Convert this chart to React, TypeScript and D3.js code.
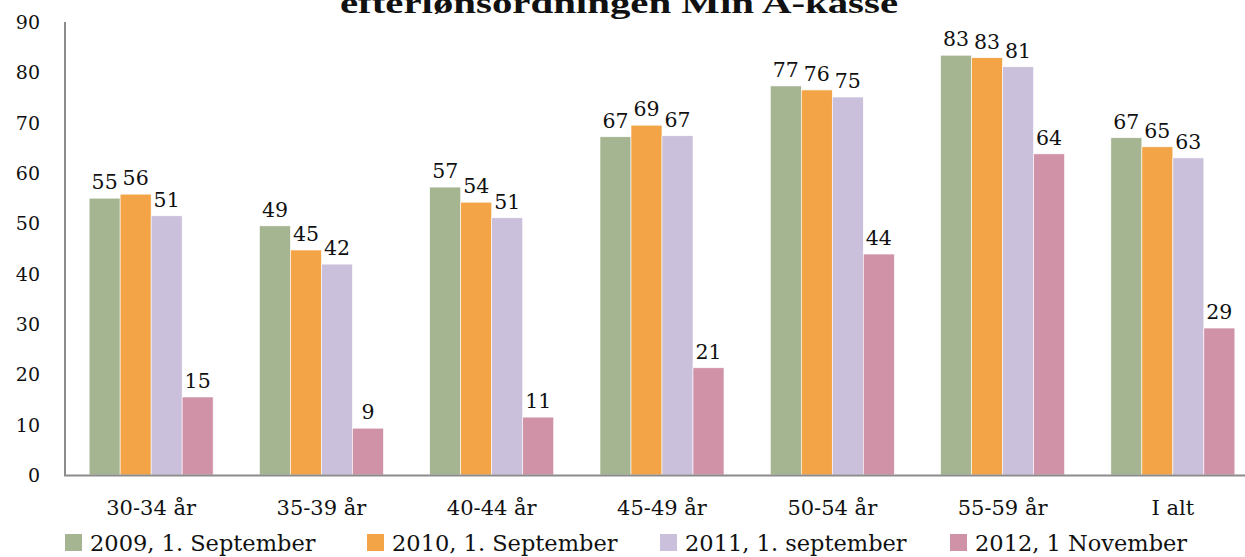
import React from "react";
import * as d3 from "d3";

const categories = ["30-34 år", "35-39 år", "40-44 år", "45-49 år", "50-54 år", "55-59 år", "I alt"];
const seriesNames = ["2009, 1. September", "2010, 1. September", "2011, 1. september", "2012, 1 November"];
const colors = ["#A5B592", "#F3A447", "#CBC0DB", "#D092A7"];
const s2009 = [55.0, 49.5, 57.2, 67.2, 77.3, 83.4, 67.0];
const s2010 = [55.8, 44.7, 54.2, 69.5, 76.5, 82.9, 65.2];
const s2011 = [51.5, 41.9, 51.1, 67.4, 75.1, 81.1, 63.0];
const s2012 = [15.5, 9.3, 11.5, 21.3, 43.9, 63.8, 29.2];
const labels2009 = [55, 49, 57, 67, 77, 83, 67];
const labels2010 = [56, 45, 54, 69, 76, 83, 65];
const labels2011 = [51, 42, 51, 67, 75, 81, 63];
const labels2012 = [15, 9, 11, 21, 44, 64, 29];
const yTicks = [0, 10, 20, 30, 40, 50, 60, 70, 80, 90];
const title = "efterlønsordningen Min A-kasse";

const series = [s2009, s2010, s2011, s2012];
const seriesLabels = [labels2009, labels2010, labels2011, labels2012];

export default function App() {
  const W = 1245, H = 557;
  const x = d3.scaleBand<string>().domain(categories).range([66, 1258]).padding(0);
  const y = d3.scaleLinear().domain([0, 90]).range([475, 22]);
  const barW = 31;
  const font = "'DejaVu Serif', 'Liberation Serif', serif";
  const titleFont = "'Liberation Serif', serif";
  const legendX = [65, 367, 660, 950];

  return (
    <svg width={W} height={H} style={{ position: "absolute", left: 0, top: 0, background: "#fff" }}>
      <text x={340} y={13} fontFamily={titleFont} fontWeight="bold" fontSize={29} fill="#111"
        textLength={558} lengthAdjust="spacingAndGlyphs">
        {title}
      </text>
      {yTicks.map((t) => (
        <text key={t} x={40} y={y(t) + 7} textAnchor="end" fontFamily={font} fontSize={19} fill="#111">
          {t}
        </text>
      ))}
      {categories.map((c, ci) => {
        const cx = (x(c) as number) + x.bandwidth() / 2;
        const start = cx - (barW * series.length) / 2;
        return (
          <g key={c}>
            {series.map((s, si) => (
              <rect
                key={si}
                x={start + si * barW}
                y={y(s[ci])}
                width={barW}
                height={y(0) - y(s[ci])}
                fill={colors[si]}
                stroke="#fff"
                strokeWidth={0.6}
              />
            ))}
            {series.map((s, si) => (
              <text
                key={"l" + si}
                x={start + si * barW + barW / 2}
                y={y(s[ci]) - 9}
                textAnchor="middle"
                fontFamily={font}
                fontSize={20.5}
                fill="#111"
              >
                {seriesLabels[si][ci]}
              </text>
            ))}
            <text x={cx} y={515} textAnchor="middle" fontFamily={font} fontSize={21} fill="#111">
              {c}
            </text>
          </g>
        );
      })}
      <line x1={65} x2={65} y1={22} y2={476} stroke="#8c8c8c" strokeWidth={2} />
      <line x1={64} x2={W} y1={475.5} y2={475.5} stroke="#8c8c8c" strokeWidth={2} />
      {seriesNames.map((n, i) => (
        <g key={n}>
          <rect x={legendX[i]} y={534} width={17} height={17} fill={colors[i]} />
          <text x={legendX[i] + 25} y={551} fontFamily={font} fontSize={22.5} fill="#111">
            {n}
          </text>
        </g>
      ))}
    </svg>
  );
}
